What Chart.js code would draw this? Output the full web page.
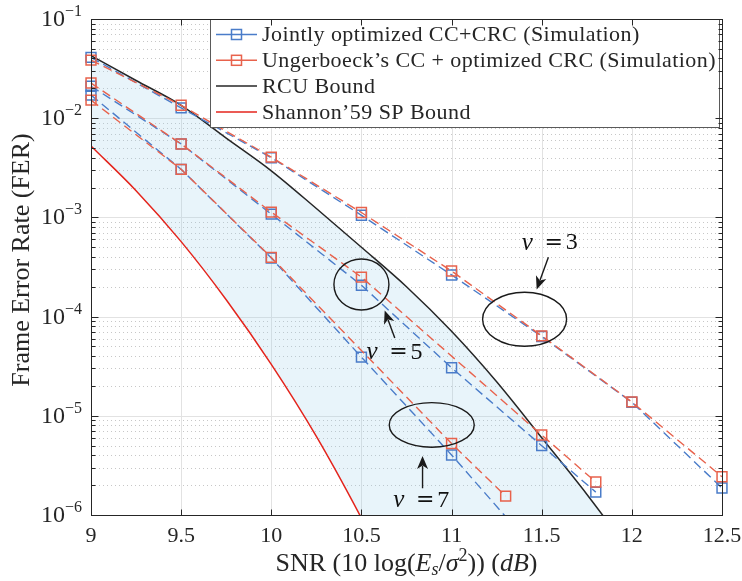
<!DOCTYPE html>
<html>
<head>
<meta charset="utf-8">
<script src="https://cdn.jsdelivr.net/npm/chart.js@4.4.1/dist/chart.umd.min.js"></script>
<style>
  html, body { margin: 0; padding: 0; background: #fff; }
</style>
</head>
<body>
<canvas id="ferChart" width="742" height="581"></canvas>
<script>
// nu = 3
const snrNu3 = [9, 9.5, 10, 10.5, 11, 11.5, 12, 12.5];
const jointNu3 = [4.1e-2, 1.27e-2, 4.0e-3, 1.05e-3, 2.63e-4, 6.3e-5, 1.37e-5, 1.87e-6];
const ungerNu3 = [3.85e-2, 1.35e-2, 4.05e-3, 1.12e-3, 2.88e-4, 6.4e-5, 1.38e-5, 2.43e-6];
// nu = 5
const snrNu5Joint = [9, 9.5, 10, 10.5, 11, 11.5, 11.8];
const jointNu5 = [2.1e-2, 5.5e-3, 1.08e-3, 2.07e-4, 3.05e-5, 5.0e-6, 1.7e-6];
const snrNu5Unger = [9, 9.5, 10, 10.5, 11.5, 11.8];
const ungerNu5 = [2.26e-2, 5.5e-3, 1.13e-3, 2.5e-4, 6.4e-6, 2.15e-6];
// nu = 7
const snrNu7Joint = [9, 9.5, 10, 10.5, 11, 11.5];
const jointNu7 = [1.71e-2, 3.05e-3, 3.9e-4, 3.9e-5, 4.03e-6, 3.7e-7];
const snrNu7Unger = [9, 9.5, 10, 11, 11.3];
const ungerNu7 = [1.52e-2, 3.05e-3, 3.95e-4, 5.25e-6, 1.55e-6];
// bounds
const snrBound = [9, 9.25, 9.5, 9.75, 10, 10.25, 10.5, 10.75, 11, 11.25, 11.5, 11.75, 12];
const rcuBound = [4.27e-2, 2.4e-2, 1.35e-2, 6.3e-3, 2.95e-3, 1.23e-3, 5.0e-4, 2.0e-4, 7.1e-5, 2.2e-5, 6.0e-6, 1.62e-6, 4e-7];
const spBound = [5.25e-3, 1.86e-3, 5.7e-4, 1.48e-4, 3.3e-5, 6.2e-6, 9.3e-7, 1.17e-7, 1.26e-8, 1.26e-9, 1e-10, 8e-12, 5e-13];

const xTicks = [9, 9.5, 10, 10.5, 11, 11.5, 12, 12.5];
const xTickLabels = ["9", "9.5", "10", "10.5", "11", "11.5", "12", "12.5"];
const yDecades = [1e-1, 1e-2, 1e-3, 1e-4, 1e-5, 1e-6];
const yTickExponents = ["\u22121", "\u22122", "\u22123", "\u22124", "\u22125", "\u22126"];
const legendLabels = [
  "Jointly optimized CC+CRC (Simulation)",
  "Ungerboeck\u2019s CC + optimized CRC (Simulation)",
  "RCU Bound",
  "Shannon\u201959 SP Bound",
];

const BLUE = "#4a7cc9";
const RED = "#e8624c";
const SP_RED = "#e4241c";
const DARK = "#262626";
const serif = '"Liberation Serif", "Times New Roman", serif';

// ellipses / arrows / nu labels, anchored in data coordinates
const ellipses = [
  { x: 10.5, y: 2.11e-4, rx: 27.5, ry: 25.5 },
  { x: 11.405, y: 9.4e-5, rx: 42, ry: 27 },
  { x: 10.89, y: 8.1e-6, rx: 42.5, ry: 22.3 },
];
const arrows = [
  { from: [11.537, 3.96e-4], to: [11.472, 1.88e-4] },
  { from: [10.685, 6.08e-5], to: [10.629, 1.15e-4] },
  { from: [10.839, 1.86e-6], to: [10.839, 3.94e-6] },
];
const nuLabels = [
  { x: 11.389, y: 5.52e-4, text: "3" },
  { x: 10.528, y: 4.35e-5, text: "5" },
  { x: 10.676, y: 1.4e-6, text: "7" },
];

const pts = (xs, ys) => xs.map((x, i) => ({ x: x, y: ys[i] }));

function simSet(label, xs, ys, color, order) {
  return {
    label: label,
    data: pts(xs, ys),
    borderColor: color,
    backgroundColor: "rgba(0,0,0,0)",
    borderWidth: 1.4,
    borderDash: [9, 5],
    pointStyle: "rect",
    pointRadius: (c) => (c.raw && c.raw.y < 1e-6 ? 0 : 7),
    pointBorderColor: color,
    pointBackgroundColor: "rgba(0,0,0,0)",
    pointBorderWidth: 1.5,
    tension: 0,
    fill: false,
    clip: { left: 10, right: 10, top: 0, bottom: 0 },
    order: order,
  };
}

function font(size, style) {
  return (style || "") + " " + size + "px " + serif;
}

function drawRuns(ctx, runs, x, y, align) {
  let total = 0;
  runs.forEach((r) => {
    ctx.font = font(r[1], r[2]);
    total += ctx.measureText(r[0]).width;
  });
  let cx = align === "center" ? x - total / 2 : align === "right" ? x - total : x;
  ctx.textAlign = "left";
  runs.forEach((r) => {
    ctx.font = font(r[1], r[2]);
    ctx.fillText(r[0], cx, y + (r[3] || 0));
    cx += ctx.measureText(r[0]).width;
  });
}

const framePlugin = {
  id: "frame",
  beforeDatasetsDraw(chart) {
    const { ctx, chartArea: a, scales } = chart;
    const x = scales.x, y = scales.y;
    ctx.save();
    ctx.lineWidth = 1;
    // minor dotted grid
    ctx.strokeStyle = "rgba(0,0,0,0.22)";
    ctx.setLineDash([1, 3]);
    yDecades.forEach((d) => {
      if (d >= 1e-1) return;
      for (let k = 2; k <= 9; k++) {
        const py = Math.round(y.getPixelForValue(d * k)) + 0.5;
        ctx.beginPath();
        ctx.moveTo(a.left, py);
        ctx.lineTo(a.right, py);
        ctx.stroke();
      }
    });
    // major grid
    ctx.setLineDash([]);
    ctx.strokeStyle = "#e2e2e2";
    yDecades.forEach((d) => {
      const py = Math.round(y.getPixelForValue(d)) + 0.5;
      ctx.beginPath();
      ctx.moveTo(a.left, py);
      ctx.lineTo(a.right, py);
      ctx.stroke();
    });
    xTicks.forEach((v) => {
      const px = Math.round(x.getPixelForValue(v)) + 0.5;
      ctx.beginPath();
      ctx.moveTo(px, a.top);
      ctx.lineTo(px, a.bottom);
      ctx.stroke();
    });
    ctx.restore();
  },
  afterDatasetsDraw(chart) {
    const { ctx, chartArea: a, scales } = chart;
    const x = scales.x, y = scales.y;
    ctx.save();
    ctx.setLineDash([]);

    // annotations: ellipses, arrows, nu labels
    ctx.strokeStyle = "#1a1a1a";
    ctx.fillStyle = "#1a1a1a";
    ctx.lineWidth = 1.4;
    ellipses.forEach((e) => {
      ctx.beginPath();
      ctx.ellipse(x.getPixelForValue(e.x), y.getPixelForValue(e.y), e.rx, e.ry, 0, 0, Math.PI * 2);
      ctx.stroke();
    });
    arrows.forEach((ar) => {
      const x0 = x.getPixelForValue(ar.from[0]), y0 = y.getPixelForValue(ar.from[1]);
      const x1 = x.getPixelForValue(ar.to[0]), y1 = y.getPixelForValue(ar.to[1]);
      const ang = Math.atan2(y1 - y0, x1 - x0);
      const hl = 13, hw = 5.5;
      const bx = x1 - hl * Math.cos(ang), by = y1 - hl * Math.sin(ang);
      ctx.beginPath();
      ctx.moveTo(x0, y0);
      ctx.lineTo(bx + 3 * Math.cos(ang), by + 3 * Math.sin(ang));
      ctx.stroke();
      ctx.beginPath();
      ctx.moveTo(x1, y1);
      ctx.lineTo(bx - hw * Math.sin(ang), by + hw * Math.cos(ang));
      ctx.lineTo(bx + 3.5 * Math.cos(ang), by + 3.5 * Math.sin(ang));
      ctx.lineTo(bx + hw * Math.sin(ang), by - hw * Math.cos(ang));
      ctx.closePath();
      ctx.fill();
    });
    ctx.fillStyle = "#111";
    ctx.textBaseline = "middle";
    nuLabels.forEach((l) => {
      const lx = x.getPixelForValue(l.x), ly = y.getPixelForValue(l.y);
      ctx.textAlign = "left";
      ctx.font = font(25, "italic");
      ctx.fillText("\u03bd", lx, ly);
      ctx.textAlign = "center";
      ctx.font = '22px "DejaVu Serif", serif';
      ctx.fillText("=", lx + 32, ly);
      ctx.textAlign = "left";
      ctx.font = font(24);
      ctx.fillText(l.text, lx + 44, ly);
    });

    // legend
    const L = 210.5, T = Math.floor(a.top) + 0.5, R = 719.5, B = 127.5;
    ctx.fillStyle = "#fff";
    ctx.fillRect(L, T, R - L, B - T);
    ctx.strokeStyle = "#5a5a5a";
    ctx.lineWidth = 1;
    ctx.strokeRect(L, T, R - L, B - T);
    const entryColors = [BLUE, RED, DARK, SP_RED];
    ctx.font = font(22);
    const longest = ctx.measureText(legendLabels[1]).width;
    const spacing = Math.max(0, (454 - longest) / legendLabels[1].length);
    legendLabels.forEach((lab, i) => {
      const ry = 34.5 + i * 25.8;
      ctx.strokeStyle = entryColors[i];
      ctx.lineWidth = i < 2 ? 1.4 : 1.5;
      ctx.beginPath();
      ctx.moveTo(216, ry);
      ctx.lineTo(257, ry);
      ctx.stroke();
      if (i < 2) {
        ctx.lineWidth = 1.5;
        ctx.strokeRect(231.5, ry - 5, 10, 10);
      }
      ctx.fillStyle = DARK;
      ctx.textAlign = "left";
      ctx.textBaseline = "middle";
      ctx.font = font(22);
      ctx.letterSpacing = spacing.toFixed(2) + "px";
      ctx.fillText(lab, 262, ry + 1);
      ctx.letterSpacing = "0px";
    });

    // axes box and inward ticks
    const l = Math.floor(a.left) + 0.5, r = Math.floor(a.right) + 0.5;
    const t = Math.floor(a.top) + 0.5, b = Math.floor(a.bottom) + 0.5;
    ctx.strokeStyle = DARK;
    ctx.lineWidth = 1;
    ctx.strokeRect(l, t, r - l, b - t);
    ctx.beginPath();
    xTicks.forEach((v) => {
      const px = Math.round(x.getPixelForValue(v)) + 0.5;
      ctx.moveTo(px, b); ctx.lineTo(px, b - 6);
      ctx.moveTo(px, t); ctx.lineTo(px, t + 6);
    });
    yDecades.forEach((d) => {
      const py = Math.round(y.getPixelForValue(d)) + 0.5;
      ctx.moveTo(l, py); ctx.lineTo(l + 7, py);
      ctx.moveTo(r, py); ctx.lineTo(r - 7, py);
      if (d >= 1e-1) return;
      for (let k = 2; k <= 9; k++) {
        const pm = Math.round(y.getPixelForValue(d * k)) + 0.5;
        ctx.moveTo(l, pm); ctx.lineTo(l + 4, pm);
        ctx.moveTo(r, pm); ctx.lineTo(r - 4, pm);
      }
    });
    ctx.stroke();

    // tick labels
    ctx.fillStyle = DARK;
    ctx.textBaseline = "alphabetic";
    ctx.textAlign = "center";
    ctx.font = font(22);
    xTicks.forEach((v, i) => {
      ctx.fillText(xTickLabels[i], x.getPixelForValue(v), a.bottom + 27);
    });
    yDecades.forEach((d, i) => {
      const py = y.getPixelForValue(d);
      drawRuns(ctx, [["10", 24, ""], [yTickExponents[i], 16, "", -10]], a.left - 9, py + 7, "right");
    });

    // axis titles
    drawRuns(ctx, [
      ["SNR (10 log(", 26, ""],
      ["E", 26, "italic"],
      ["s", 18, "italic", 4],
      ["/", 26, ""],
      ["\u03c3", 26, "italic"],
      ["2", 18, "", -10],
      [")) (", 26, ""],
      ["dB", 26, "italic"],
      [")", 26, ""],
    ], (a.left + a.right) / 2, 571, "center");

    ctx.translate(22, 260);
    ctx.rotate(-Math.PI / 2);
    ctx.textAlign = "center";
    ctx.textBaseline = "middle";
    ctx.font = font(26);
    ctx.fillText("Frame Error Rate (FER)", 0, 0);
    ctx.restore();
  },
};

const ctx = document.getElementById("ferChart").getContext("2d");

new Chart(ctx, {
  type: "line",
  data: {
    datasets: [
      simSet("Jointly optimized CC+CRC (Simulation) nu=3", snrNu3, jointNu3, BLUE, 2),
      simSet("Ungerboeck's CC + optimized CRC (Simulation) nu=3", snrNu3, ungerNu3, RED, 1),
      simSet("Jointly optimized CC+CRC (Simulation) nu=5", snrNu5Joint, jointNu5, BLUE, 2),
      simSet("Ungerboeck's CC + optimized CRC (Simulation) nu=5", snrNu5Unger, ungerNu5, RED, 1),
      simSet("Jointly optimized CC+CRC (Simulation) nu=7", snrNu7Joint, jointNu7, BLUE, 2),
      simSet("Ungerboeck's CC + optimized CRC (Simulation) nu=7", snrNu7Unger, ungerNu7, RED, 1),
      {
        label: "RCU Bound",
        data: pts(snrBound, rcuBound),
        borderColor: DARK,
        borderWidth: 1.5,
        pointRadius: 0,
        cubicInterpolationMode: "monotone",
        fill: false,
        order: 5,
      },
      {
        label: "Shannon'59 SP Bound",
        data: pts(snrBound, spBound),
        borderColor: SP_RED,
        borderWidth: 1.5,
        pointRadius: 0,
        cubicInterpolationMode: "monotone",
        fill: 6,
        backgroundColor: "rgba(150, 205, 230, 0.22)",
        order: 6,
      },
    ],
  },
  options: {
    responsive: false,
    devicePixelRatio: 1,
    animation: false,
    layout: { padding: { left: 91, right: 20, top: 19, bottom: 66 } },
    plugins: {
      legend: { display: false },
      tooltip: { enabled: false },
    },
    scales: {
      x: { type: "linear", min: 9, max: 12.5, display: false },
      y: { type: "logarithmic", min: 1e-6, max: 1e-1, display: false },
    },
  },
  plugins: [framePlugin],
});
</script>
</body>
</html>
